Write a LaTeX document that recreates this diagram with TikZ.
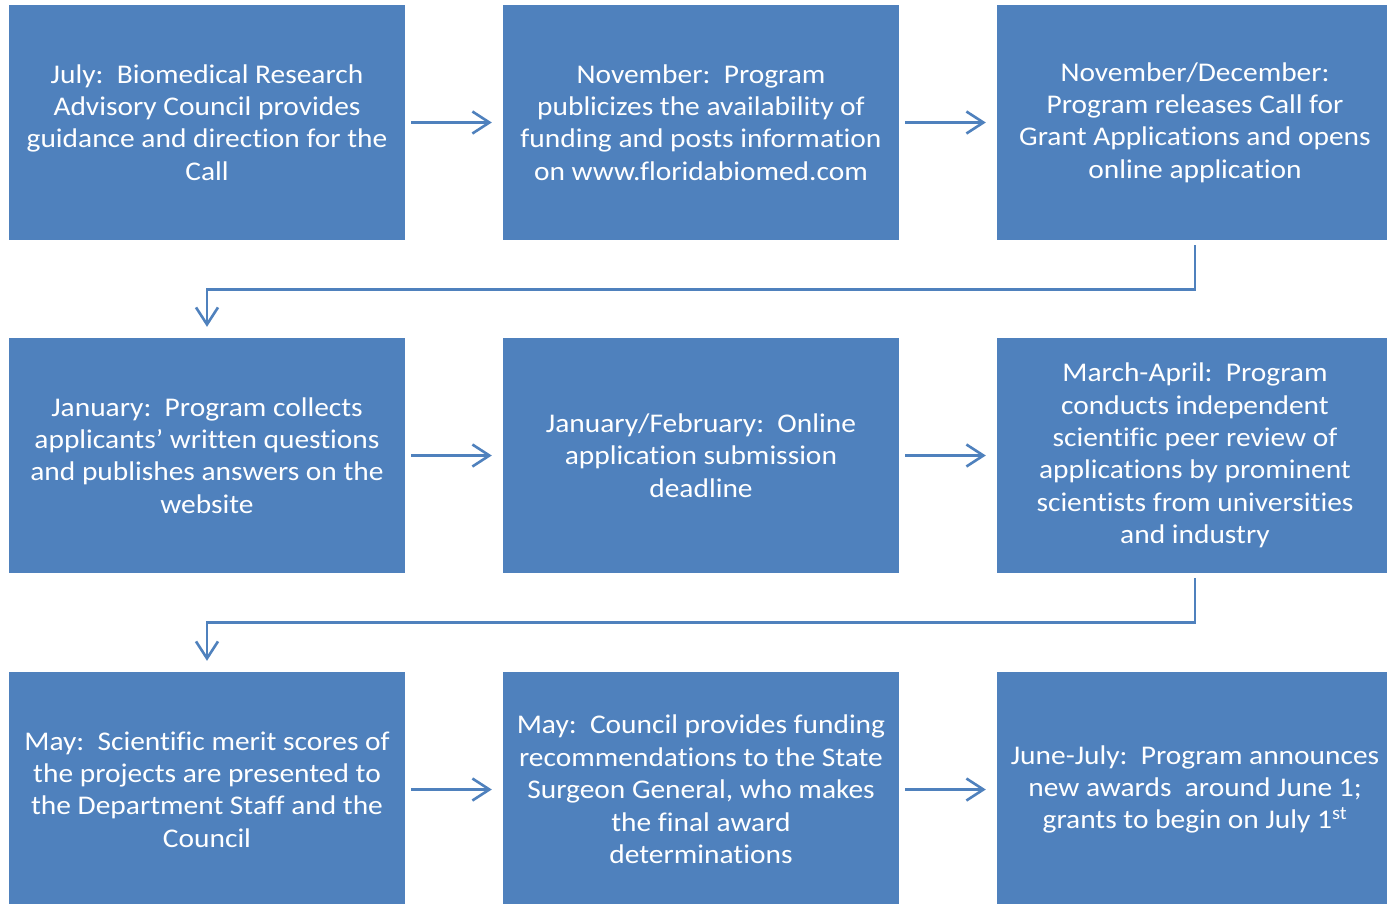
\documentclass[tikz,border=0pt]{standalone}
\usepackage{fontspec}
\setmainfont{Carlito}[FakeStretch=1.09,Ligatures=NoCommon]
\usetikzlibrary{arrows.meta}
\definecolor{boxblue}{HTML}{4F81BD}
\tikzset{
  stepbox/.style={fill=boxblue, draw=none, minimum width=396pt, minimum height=235pt,
    text=white, align=center, inner sep=0pt,
    font=\fontsize{27pt}{32.4pt}\selectfont},
  arr/.style={draw=boxblue, line width=2.6pt,
    -{Straight Barb[length=17pt,width=22pt,line width=2.6pt]}},
}
\begin{document}
\begin{tikzpicture}[x=1pt,y=-1pt]
\clip (0,0) rectangle (1387,903);
\fill[white] (0,0) rectangle (1387,903);
\node[stepbox] (b1) at (207,122.5) {July:\ \ Biomedical Research\\Advisory Council provides\\guidance and direction for the\\Call};
\node[stepbox] (b2) at (701,122.5) {November:\ \ Program\\publicizes the availability of\\funding and posts information\\on www.floridabiomed.com};
\node[stepbox] (b3) at (1195,122.5) {November/December:\\Program releases Call for\\Grant Applications and opens\\online application};
\node[stepbox] (b4) at (207,455.5) {January:\ \ Program collects\\applicants’ written questions\\and publishes answers on the\\website};
\node[stepbox] (b5) at (701,455.5) {January/February:\ \ Online\\application submission\\deadline};
\node[stepbox] (b6) at (1195,455.5) {March-April:\ \ Program\\conducts independent\\scientific peer review of\\applications by prominent\\scientists from universities\\and industry};
\node[stepbox] (b7) at (207,789.5) {May:\ \ Scientific merit scores of\\the projects are presented to\\the Department Staff and the\\Council};
\node[stepbox] (b8) at (701,789.5) {May:\ \ Council provides funding\\recommendations to the State\\Surgeon General, who makes\\the final award\\determinations};
\node[stepbox] (b9) at (1195,789.5) {June-July:\ \ Program announces\\new awards\ \ around June 1;\\grants to begin on July 1\textsuperscript{st}};
\draw[arr] ([xshift=6pt]b1.east) -- ([xshift=-11pt]b2.west);
\draw[arr] ([xshift=6pt]b2.east) -- ([xshift=-11pt]b3.west);
\draw[arr] ([xshift=6pt]b4.east) -- ([xshift=-11pt]b5.west);
\draw[arr] ([xshift=6pt]b5.east) -- ([xshift=-11pt]b6.west);
\draw[arr] ([xshift=6pt]b7.east) -- ([xshift=-11pt]b8.west);
\draw[arr] ([xshift=6pt]b8.east) -- ([xshift=-11pt]b9.west);
\draw[arr] ([yshift=-5pt]b3.south) -- ++(0,44) -| ([yshift=11pt]b4.north);
\draw[arr] ([yshift=-5pt]b6.south) -- ++(0,44) -| ([yshift=11pt]b7.north);
\end{tikzpicture}
\end{document}
